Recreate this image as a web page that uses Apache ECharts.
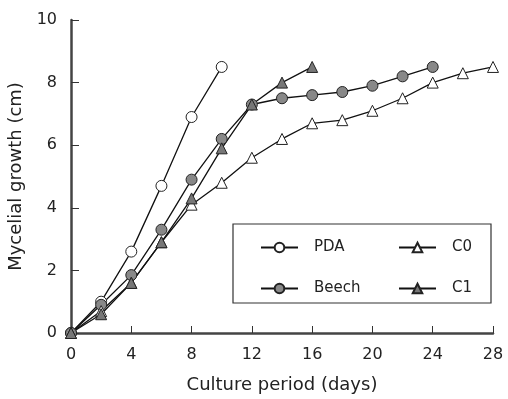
<!DOCTYPE html>
<html><head><meta charset="utf-8">
<script src="https://cdn.jsdelivr.net/npm/echarts@6/dist/echarts.min.js"></script>
<style>html,body{margin:0;padding:0;background:#fff}#c{width:508px;height:399px}</style>
</head><body><div id="c"></div>
<script>
const xTicks = [0,4,8,12,16,20,24,28];
const yTicks = [0,2,4,6,8,10];
const pdaDays = [0,2,4,6,8,10];
const pdaVals = [0,1.0,2.6,4.7,6.9,8.5];
const beechDays = [0,2,4,6,8,10,12,14,16,18,20,22,24];
const beechVals = [0,0.9,1.85,3.3,4.9,6.2,7.3,7.5,7.6,7.7,7.9,8.2,8.5];
const c0Days = [0,2,4,6,8,10,12,14,16,18,20,22,24,26,28];
const c0Vals = [0,0.7,1.6,2.9,4.1,4.8,5.6,6.2,6.7,6.8,7.1,7.5,8.0,8.3,8.5];
const c1Days = [0,2,4,6,8,10,12,14,16];
const c1Vals = [0,0.6,1.6,2.9,4.3,5.9,7.3,8.0,8.5];

const font = 'DejaVu Sans';
const pair = (d,v)=>d.map((x,i)=>[x,v[i]]);
function ser(name, d, v, symbol, fill, size){
  return {name, type:'line', data:pair(d,v), symbol, symbolSize:size,
    showAllSymbol:true,
    lineStyle:{color:'#111',width:1.3},
    itemStyle:{color:fill,borderColor:'#222',borderWidth:1},
    emphasis:{disabled:true}, animation:false};
}
const legText = {fontFamily:font,fontSize:15,color:'#222',lineHeight:14,padding:[0,0,0,11]};
const chart = echarts.init(document.getElementById('c'));
chart.setOption({
  animation:false,
  grid:{left:71,right:15,top:20,bottom:66,outerBoundsMode:'none',containLabel:false},
  xAxis:{type:'value',min:0,max:28,interval:4,
    name:'Culture period (days)',nameLocation:'middle',nameGap:43,
    nameTextStyle:{fontFamily:font,fontSize:18,color:'#222'},
    axisLine:{lineStyle:{color:'#444',width:2.5}},
    axisTick:{inside:true,length:7,lineStyle:{color:'#333',width:1}},
    axisLabel:{fontFamily:font,fontSize:16,color:'#222',margin:14,
      customValues:xTicks},
    splitLine:{show:false}},
  yAxis:{type:'value',min:0,max:10,interval:2,
    name:'Mycelial growth (cm)',nameLocation:'middle',nameGap:43,
    nameTextStyle:{fontFamily:font,fontSize:18,color:'#222'},
    axisLine:{show:true,lineStyle:{color:'#444',width:2.5}},
    axisTick:{show:true,inside:true,length:8,lineStyle:{color:'#333',width:1}},
    axisLabel:{fontFamily:font,fontSize:16,color:'#222',margin:14,customValues:yTicks},
    splitLine:{show:false}},
  legend:[
    {data:['PDA','Beech'],orient:'vertical',left:255,top:235,itemGap:26,
     itemWidth:37,itemHeight:12,textStyle:legText},
    {data:['C0','C1'],orient:'vertical',left:393,top:235,itemGap:26,
     itemWidth:37,itemHeight:12,textStyle:legText}
  ],
  graphic:[{type:'rect',shape:{x:233,y:224,width:258,height:79},
    style:{fill:'none',stroke:'#333',lineWidth:1.2},z:0}],
  series:[
    ser('PDA',pdaDays,pdaVals,'circle','#fff',11),
    ser('Beech',beechDays,beechVals,'circle','#888',11),
    ser('C0',c0Days,c0Vals,'triangle','#fff',11),
    ser('C1',c1Days,c1Vals,'triangle','#777',11)
  ]
});
</script></body></html>
